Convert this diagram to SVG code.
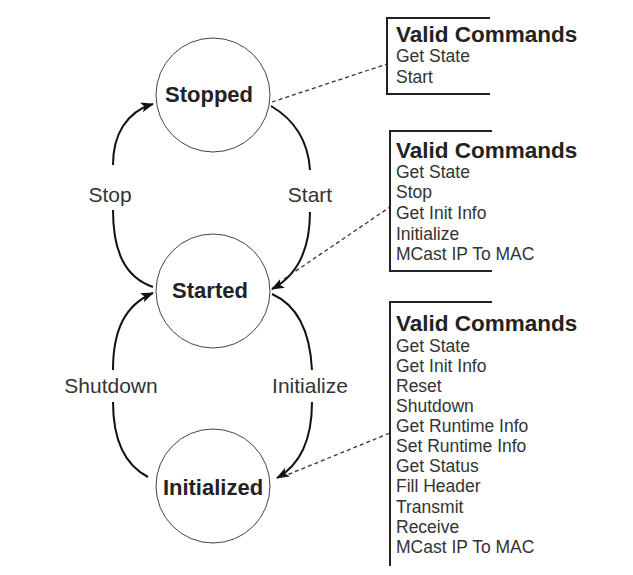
<svg xmlns="http://www.w3.org/2000/svg" width="633" height="575" viewBox="0 0 633 575">
<style>
.state{fill:#fff;stroke:#444;stroke-width:1}
.sname{font-family:"Liberation Sans",Arial,sans-serif;font-weight:bold;font-size:22px;fill:#222;text-anchor:middle}
.lbl{font-family:"Liberation Sans",Arial,sans-serif;font-size:21px;fill:#333;text-anchor:middle}
.arc{fill:none;stroke:#111;stroke-width:2}
.dash{fill:none;stroke:#333;stroke-width:1.3;stroke-dasharray:4,3}
.box{fill:none;stroke:#222;stroke-width:2}
.hdr{font-family:"Liberation Sans",Arial,sans-serif;font-weight:bold;font-size:22.5px;fill:#222}
.cmd{font-family:"Liberation Sans",Arial,sans-serif;font-size:17.5px;fill:#333}
</style>
<defs>
<marker id="ah" markerUnits="userSpaceOnUse" markerWidth="14" markerHeight="12" refX="12" refY="5" orient="auto">
<path d="M0,0 L13,5 L0,10 L3,5 z" fill="#111"/>
</marker>
</defs>
<rect width="633" height="575" fill="#fff"/>
<g id="connectors">
<path class="arc" d="M113,165 C113,135 126,112 153,104" marker-end="url(#ah)"/>
<path class="arc" d="M113,210 C113,250 124,277 153,287"/>
<path class="arc" d="M271,106 C295,120 308,140 310,170"/>
<path class="arc" d="M310,212 C310,250 298,275 272,289" marker-end="url(#ah)"/>
<path class="arc" d="M113,370 C113,330 125,305 153,293" marker-end="url(#ah)"/>
<path class="arc" d="M113,402 C113,440 125,465 148,477"/>
<path class="arc" d="M272,294 C297,305 310,330 312,370"/>
<path class="arc" d="M312,402 C312,440 300,465 277,478" marker-end="url(#ah)"/>
<path class="dash" d="M272,102 L387,64"/>
<path class="dash" d="M284,279 L390,207"/>
<path class="dash" d="M282,477 L390,433"/>
<text class="lbl" x="110" y="202">Stop</text>
<text class="lbl" x="310" y="202">Start</text>
<text class="lbl" x="111" y="393">Shutdown</text>
<text class="lbl" x="310" y="393">Initialize</text>
</g>
<g id="stopped">
<circle class="state" cx="213" cy="95" r="57"/>
<text class="sname" x="209" y="102">Stopped</text>
</g>
<g id="started">
<circle class="state" cx="213" cy="291" r="57"/>
<text class="sname" x="210" y="298">Started</text>
</g>
<g id="initialized">
<circle class="state" cx="213" cy="486" r="57"/>
<text class="sname" x="213" y="495">Initialized</text>
</g>
<g id="cmds-stopped">
<path class="box" d="M490,18 H387 V94 H490"/>
<text class="hdr" x="396" y="42">Valid Commands</text>
<text class="cmd" x="396" y="62">Get State</text>
<text class="cmd" x="396" y="83">Start</text>
</g>
<g id="cmds-started">
<path class="box" d="M492,131 H390 V271 H492"/>
<text class="hdr" x="396" y="158">Valid Commands</text>
<text class="cmd" x="396" y="178">Get State</text>
<text class="cmd" x="396" y="198">Stop</text>
<text class="cmd" x="396" y="219">Get Init Info</text>
<text class="cmd" x="396" y="240">Initialize</text>
<text class="cmd" x="396" y="260">MCast IP To MAC</text>
</g>
<g id="cmds-initialized">
<path class="box" d="M492,302 H390 V566"/>
<text class="hdr" x="396" y="331">Valid Commands</text>
<text class="cmd" x="396" y="352">Get State</text>
<text class="cmd" x="396" y="372">Get Init Info</text>
<text class="cmd" x="396" y="392">Reset</text>
<text class="cmd" x="396" y="412">Shutdown</text>
<text class="cmd" x="396" y="432">Get Runtime Info</text>
<text class="cmd" x="396" y="452">Set Runtime Info</text>
<text class="cmd" x="396" y="472">Get Status</text>
<text class="cmd" x="396" y="492">Fill Header</text>
<text class="cmd" x="396" y="513">Transmit</text>
<text class="cmd" x="396" y="533">Receive</text>
<text class="cmd" x="396" y="553">MCast IP To MAC</text>
</g>
</svg>
